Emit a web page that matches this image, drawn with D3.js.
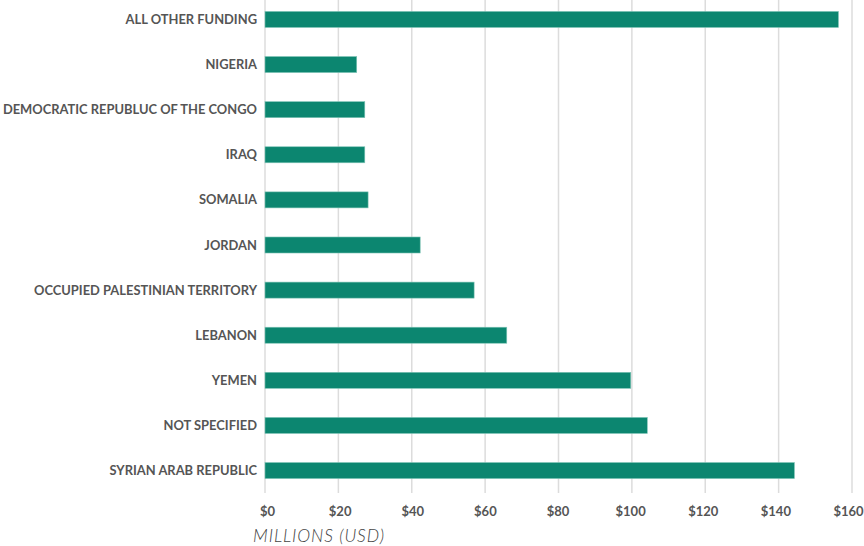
<!DOCTYPE html>
<html>
<head>
<meta charset="utf-8">
<script src="https://cdn.jsdelivr.net/npm/d3@7"></script>
<style>
  body { margin: 0; background: #fff; }
  svg { display: block; }
</style>
</head>
<body>
<div id="chart"></div>
<script>
// Funding by destination, millions USD
const categories = [
  'ALL OTHER FUNDING',
  'NIGERIA',
  'DEMOCRATIC REPUBLUC OF THE CONGO',
  'IRAQ',
  'SOMALIA',
  'JORDAN',
  'OCCUPIED PALESTINIAN TERRITORY',
  'LEBANON',
  'YEMEN',
  'NOT SPECIFIED',
  'SYRIAN ARAB REPUBLIC'
];
const values = [156.3, 25.0, 27.2, 27.2, 28.1, 42.3, 57.0, 65.9, 99.7, 104.2, 144.3];
const tickValues = [0, 20, 40, 60, 80, 100, 120, 140, 160];
const axisTitle = 'MILLIONS (USD)';

let width = 864;
let height = 546;
let margin = { top: -3, right: 12, bottom: 53, left: 265 };

let svg = d3.select('#chart')
  .append('svg')
  .attr('width', width)
  .attr('height', height);

let x = d3.scaleLinear()
  .domain([0, 160])
  .range([margin.left, width - margin.right]);

// tick labels sit a little left of their gridlines towards the right end
let xLabel = d3.scaleLinear()
  .domain([0, 160])
  .range([267.5, 848.5]);

let y = d3.scaleBand()
  .domain(categories)
  .range([margin.top, height - margin.bottom])
  .paddingInner(0.645)
  .paddingOuter(0.32);

// gridlines
svg.append('g')
  .selectAll('line')
  .data(tickValues)
  .join('line')
  .attr('x1', d => x(d))
  .attr('x2', d => x(d))
  .attr('y1', 0)
  .attr('y2', height - margin.bottom)
  .attr('stroke', '#dcdcdc')
  .attr('stroke-width', 1.5);

// bars
svg.append('g')
  .selectAll('rect')
  .data(values)
  .join('rect')
  .attr('x', x(0))
  .attr('y', (d, i) => y(categories[i]))
  .attr('width', d => x(d) - x(0))
  .attr('height', y.bandwidth())
  .attr('fill', '#0c8670')
  .attr('stroke', '#7fc4b6')
  .attr('stroke-width', 0.6);

// category labels
svg.append('g')
  .selectAll('text')
  .data(categories)
  .join('text')
  .attr('x', margin.left - 8)
  .attr('y', d => y(d) + y.bandwidth() / 2)
  .attr('dy', '0.35em')
  .attr('text-anchor', 'end')
  .attr('font-family', 'Lato, sans-serif')
  .attr('font-weight', 'bold')
  .attr('font-size', '12.9px')
  .attr('fill', '#555')
  .text(d => d);

// x axis tick labels
svg.append('g')
  .selectAll('text')
  .data(tickValues)
  .join('text')
  .attr('x', d => xLabel(d))
  .attr('y', 511)
  .attr('dy', '0.35em')
  .attr('text-anchor', 'middle')
  .attr('font-family', 'Lato, sans-serif')
  .attr('font-weight', 'bold')
  .attr('font-size', '13px')
  .attr('fill', '#555')
  .text(d => '$' + d);

// axis title
svg.append('text')
  .attr('x', 253)
  .attr('y', 542)
  .attr('font-family', 'Lato, sans-serif')
  .attr('font-style', 'italic')
  .attr('font-weight', 300)
  .attr('font-size', '17.5px')
  .attr('letter-spacing', '0.9px')
  .attr('fill', '#444')
  .text(axisTitle);
</script>
</body>
</html>
